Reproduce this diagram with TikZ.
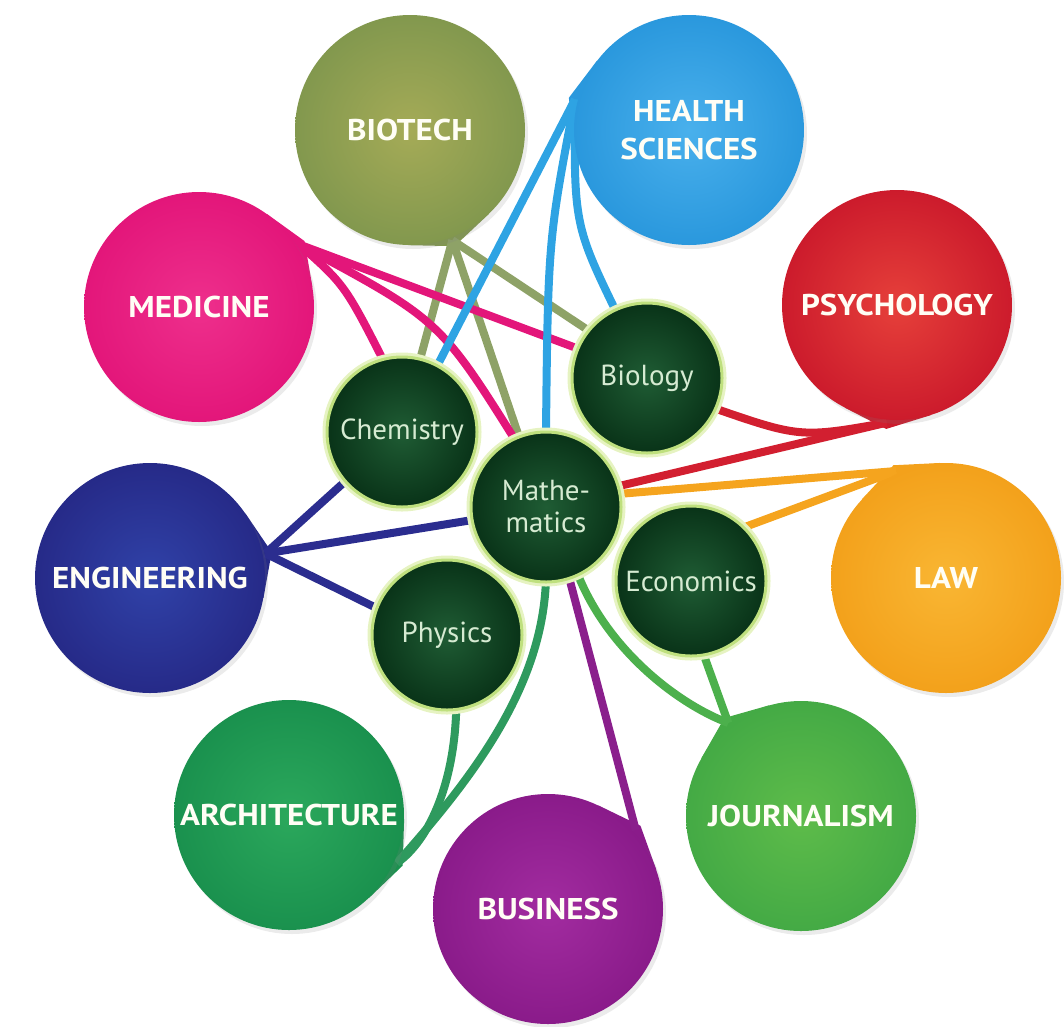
\documentclass[tikz,border=0pt]{standalone}
\usepackage{fontspec}
\setmainfont{PT Sans}
\newfontfamily\lblfont{PT Sans}[FakeStretch=1.1]
\usetikzlibrary{shadows,backgrounds,calc}

\definecolor{biotechA}{HTML}{A5AB57}
\definecolor{biotechB}{HTML}{82984E}
\definecolor{healthA}{HTML}{49B0EC}
\definecolor{healthB}{HTML}{2A98DD}
\definecolor{medA}{HTML}{EE2F8C}
\definecolor{medB}{HTML}{E3167A}
\definecolor{psyA}{HTML}{E6403A}
\definecolor{psyB}{HTML}{CC1B2C}
\definecolor{engA}{HTML}{3042A8}
\definecolor{engB}{HTML}{262A88}
\definecolor{lawA}{HTML}{F9B633}
\definecolor{lawB}{HTML}{F3A11B}
\definecolor{archA}{HTML}{2BA85C}
\definecolor{archB}{HTML}{1A914E}
\definecolor{busA}{HTML}{A22CA0}
\definecolor{busB}{HTML}{8A1B8A}
\definecolor{jouA}{HTML}{5EBC4A}
\definecolor{jouB}{HTML}{44AA45}
\definecolor{sciA}{HTML}{1F5C34}
\definecolor{sciB}{HTML}{093318}
\definecolor{sciEdge}{HTML}{BFE07E}
\definecolor{sciGlow}{HTML}{E6F3C2}
\definecolor{sciText}{HTML}{D6EBD2}
\definecolor{lnBio}{HTML}{8EA267}
\definecolor{lnHea}{HTML}{2EA3E3}
\definecolor{lnMed}{HTML}{E3167A}
\definecolor{lnPsy}{HTML}{D21F30}
\definecolor{lnLaw}{HTML}{F5A41E}
\definecolor{lnEng}{HTML}{2B2D8F}
\definecolor{lnArc}{HTML}{2E9A5E}
\definecolor{lnBus}{HTML}{8A1F8C}
\definecolor{lnJou}{HTML}{4CB04C}

% teardrop point of an outer circle: #1 node, #2 angle, #3 colour
% defines (#1tip) for the drawn point and (#1start) where the links begin
\newcommand\teardrop[3]{%
  \coordinate (#1tip) at ($(#1.center)!1.08!(#1.#2)$);%
  \coordinate (#1start) at ($(#1.center)!1.025!(#1.#2)$);%
  \pgfmathtruncatemacro\tdA{#2+22}%
  \pgfmathtruncatemacro\tdB{#2-22}%
  \fill[#3] (#1tip) -- (#1.\tdB) -- (#1.center) -- (#1.\tdA) -- cycle;}

\begin{document}
\begin{tikzpicture}[x=1pt,y=-1pt,
  ball/.style 2 args={circle, minimum size=230pt, inner sep=0pt, align=center,
    inner color=#1, outer color=#2, text=white!96!yellow,
    font=\lblfont\fontsize{30}{38}\selectfont\bfseries,
    drop shadow={shadow xshift=3pt, shadow yshift=-4pt, opacity=0.16}},
  sci/.style={circle, minimum size=150pt, inner sep=0pt, align=center,
    inner color=sciA, outer color=sciB, draw=sciEdge, line width=3pt,
    preaction={draw=sciGlow, line width=9pt},
    text=sciText, font=\fontsize{29}{32}\selectfont},
  link/.style={line width=8pt, shorten >=-10pt}
]
\useasboundingbox (0,0) rectangle (1064,1026);

% outer discipline circles
\node[ball={biotechA}{biotechB}] (biotech) at (410,130) {BIOTECH};
\node[ball={healthA}{healthB}] (health) at (689,130) {HEALTH\\SCIENCES};
\node[ball={medA}{medB}] (med) at (199,307) {MEDICINE};
\node[ball={psyA}{psyB}] (psych) at (897,305) {PSYCHOLOGY};
\node[ball={engA}{engB}] (eng) at (150,578) {ENGINEERING};
\node[ball={lawA}{lawB}] (law) at (946,578) {LAW};
\node[ball={archA}{archB}] (arch) at (289,815) {ARCHITECTURE};
\node[ball={busA}{busB}] (bus) at (548,909) {BUSINESS};
\node[ball={jouA}{jouB}] (jour) at (801,816) {JOURNALISM};

% inner science circles
\node[sci] (chem) at (402,432) {Chemistry};
\node[sci] (bio) at (647,378) {Biology};
\node[sci] (math) at (546,507) {Mathe-\\matics};
\node[sci] (econ) at (691,581) {Economics};
\node[sci] (phys) at (447,635) {Physics};

\begin{scope}[on background layer]
  \teardrop{biotech}{-69}{biotechB}
  \teardrop{health}{165}{healthB}
  \teardrop{med}{32}{medB}
  \teardrop{psych}{-95}{psyB}
  \teardrop{law}{115}{lawB}
  \teardrop{eng}{12}{engB}
  \teardrop{arch}{-24}{archB}
  \teardrop{bus}{42}{busB}
  \teardrop{jour}{128}{jouB}
  % biotech
  \draw[link, lnBio] (biotechstart) -- (chem.76);
  \draw[link, lnBio] (biotechstart) -- (math.111);
  \draw[link, lnBio] (biotechstart) -- (bio.141);
  % medicine
  \draw[link, lnMed] (medstart) .. controls (345,285) .. (chem.105);
  \draw[link, lnMed] (medstart) .. controls (440,320) .. (math.115);
  \draw[link, lnMed] (medstart) -- (bio.157);
  % health sciences
  \draw[link, lnHea] (healthstart) -- (chem.62);
  \draw[link, lnHea] (healthstart) .. controls (548,240) .. (math.90);
  \draw[link, lnHea] (healthstart) .. controls (574,225) .. (bio.115);
  % psychology
  \draw[link, lnPsy] (psychstart) .. controls (800,438) .. (bio.-24);
  \draw[link, lnPsy] (psychstart) -- (math.16);
  % law
  \draw[link, lnLaw] (lawstart) -- (math.10);
  \draw[link, lnLaw] (lawstart) -- (econ.45);
  % engineering
  \draw[link, lnEng] (engstart) -- (chem.221);
  \draw[link, lnEng] (engstart) -- (math.190);
  \draw[link, lnEng] (engstart) -- (phys.159);
  % architecture
  \draw[link, lnArc] (archstart) .. controls (430,840) and (456,780) .. (phys.-83);
  \draw[link, lnArc] (archstart) .. controls (480,770) and (545,680) .. (math.-90);
  % business
  \draw[link, lnBus] (busstart) -- (math.-72);
  % journalism
  \draw[link, lnJou] (jourstart) .. controls (680,705) and (605,650) .. (math.-65);
  \draw[link, lnJou] (jourstart) -- (econ.-80);
\end{scope}
\end{tikzpicture}
\end{document}
